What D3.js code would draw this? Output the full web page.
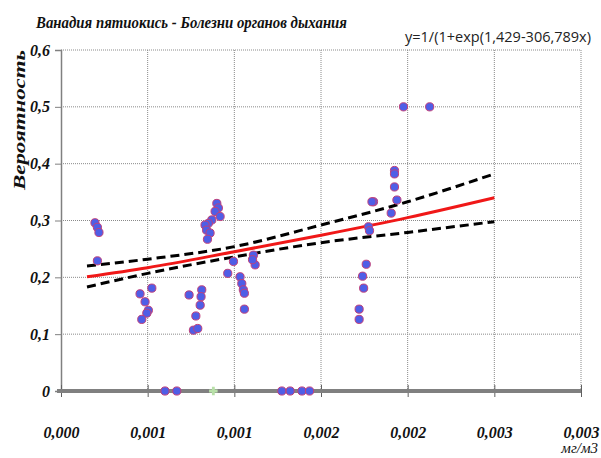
<!DOCTYPE html>
<html>
<head>
<meta charset="utf-8">
<script src="https://cdn.jsdelivr.net/npm/d3@7"></script>
<style>
  body { margin: 0; background: #fff; }
  svg { display: block; }
</style>
</head>
<body>
<div id="chart"></div>
<script>
// data
var chartTitle = "Ванадия пятиокись - Болезни органов дыхания";
var equation = "y=1/(1+exp(1,429-306,789x)";
var yTitle = "Вероятность";
var xUnit = "мг/м3";

var xTicks = [0, 0.0005, 0.001, 0.0015, 0.002, 0.0025, 0.003];
var xTickLabels = ["0,000", "0,001", "0,001", "0,002", "0,002", "0,003", "0,003"];
var yTicks = [0, 0.1, 0.2, 0.3, 0.4, 0.5, 0.6];
var yTickLabels = ["0", "0,1", "0,2", "0,3", "0,4", "0,5", "0,6"];

// observed points (concentration, probability)
var pointX = [
  0.000196, 0.00021, 0.000219, 0.00021,
  0.000456, 0.000524, 0.000485, 0.000504, 0.000495, 0.000466,
  0.000899, 0.000908, 0.000889, 0.000918, 0.00087, 0.00085, 0.000831, 0.00084, 0.00086, 0.000845,
  0.000739, 0.000812, 0.000808, 0.000803, 0.000778, 0.000764, 0.000789,
  0.000995, 0.000962, 0.001033, 0.001043, 0.001052, 0.001058, 0.001058, 0.00111, 0.00112, 0.001105,
  0.001976, 0.002127, 0.001924, 0.001924, 0.001924, 0.001938, 0.001803, 0.001794, 0.001905, 0.001774, 0.00178,
  0.001761, 0.00174, 0.001746, 0.00172, 0.00172,
  0.0006, 0.000668, 0.001274, 0.001322, 0.00139, 0.001434
];
var pointY = [
  0.296, 0.288, 0.279, 0.229,
  0.171, 0.181, 0.157, 0.142, 0.137, 0.126,
  0.330, 0.322, 0.316, 0.307, 0.301, 0.295, 0.292, 0.283, 0.278, 0.267,
  0.169, 0.178, 0.166, 0.151, 0.132, 0.107, 0.110,
  0.228, 0.207, 0.201, 0.189, 0.178, 0.172, 0.144, 0.239, 0.222, 0.231,
  0.50, 0.50, 0.388, 0.382, 0.359, 0.336, 0.333, 0.333, 0.313, 0.289, 0.282,
  0.223, 0.202, 0.181, 0.144, 0.126,
  0, 0, 0, 0, 0, 0
];
var plusX = [0.000879];
var plusY = [0];

// fitted curve and its confidence band
var fitX = [0.00015, 0.0005, 0.001, 0.0015, 0.002, 0.0025];
var fitY = [0.201, 0.217, 0.245, 0.274, 0.305, 0.340];
var upperY = [0.220, 0.232, 0.254, 0.292, 0.333, 0.382];
var lowerY = [0.183, 0.207, 0.236, 0.261, 0.279, 0.298];

var W = 601, H = 458;
var margin = {top: 50, right: 20, bottom: 67, left: 61},
    width = 581 - margin.left,
    height = H - margin.top - margin.bottom;

var svg = d3.select("#chart")
  .append("svg")
    .attr("width", W)
    .attr("height", H);

var g = svg.append("g")
    .attr("transform", "translate(" + margin.left + "," + margin.top + ")");

var x = d3.scaleLinear().domain([0, 0.003]).range([0, width]);
var y = d3.scaleLinear().domain([0, 0.6]).range([height, 0]);

var serif = "'Liberation Serif', 'Times New Roman', serif";

// grid
g.append("g")
  .selectAll("line")
  .data(yTicks.slice(1))
  .enter().append("line")
    .attr("x1", 0).attr("x2", width)
    .attr("y1", function(d) { return y(d); })
    .attr("y2", function(d) { return y(d); })
    .attr("stroke", "#8a8a8a")
    .attr("stroke-width", 1)
    .attr("stroke-dasharray", "1,1");

g.append("g")
  .selectAll("line")
  .data(xTicks.slice(1))
  .enter().append("line")
    .attr("x1", function(d) { return x(d); })
    .attr("x2", function(d) { return x(d); })
    .attr("y1", 0).attr("y2", height)
    .attr("stroke", "#8a8a8a")
    .attr("stroke-width", 1)
    .attr("stroke-dasharray", "1,1");

// y axis
var yAxis = g.append("g")
  .call(d3.axisLeft(y).tickValues(yTicks).tickSize(6)
    .tickFormat(function(d, i) { return yTickLabels[i]; }));
yAxis.select(".domain").attr("stroke", "#808080").attr("stroke-width", 1.5);
yAxis.selectAll(".tick line").attr("stroke", "#808080");
yAxis.selectAll(".tick text")
  .attr("x", -11)
  .style("font-family", serif)
  .style("font-size", "16px")
  .style("font-weight", "bold")
  .style("font-style", "italic")
  .attr("fill", "#111");

// x axis sits on y = 0
var xAxis = g.append("g")
  .attr("transform", "translate(0," + height + ")")
  .call(d3.axisBottom(x).tickValues(xTicks).tickSize(0)
    .tickFormat(function(d, i) { return xTickLabels[i]; }));
xAxis.select(".domain").remove();
xAxis.append("line")
  .attr("x1", -4).attr("x2", width)
  .attr("stroke", "#808080")
  .attr("stroke-width", 4);
xAxis.selectAll(".tick").append("line")
  .attr("y1", -6).attr("y2", 6)
  .attr("stroke", "#606060");
xAxis.selectAll(".tick text")
  .attr("y", 47)
  .attr("dy", 0)
  .style("font-family", serif)
  .style("font-size", "16px")
  .style("font-weight", "bold")
  .style("font-style", "italic")
  .attr("fill", "#111");

// confidence band
var line = d3.line()
  .x(function(d) { return x(d[0]); })
  .y(function(d) { return y(d[1]); })
  .curve(d3.curveMonotoneX);

[upperY, lowerY].forEach(function(band) {
  g.append("path")
    .datum(fitX.map(function(v, i) { return [v, band[i]]; }))
    .attr("fill", "none")
    .attr("stroke", "#000")
    .attr("stroke-width", 3)
    .attr("stroke-dasharray", "9,5")
    .attr("d", line);
});

g.append("path")
  .datum(fitX.map(function(v, i) { return [v, fitY[i]]; }))
  .attr("fill", "none")
  .attr("stroke", "#f01818")
  .attr("stroke-width", 3)
  .attr("d", line);

// points
g.append("g")
  .selectAll("circle")
  .data(pointX.map(function(v, i) { return [v, pointY[i]]; }))
  .enter().append("circle")
    .attr("cx", function(d) { return x(d[0]); })
    .attr("cy", function(d) { return y(d[1]); })
    .attr("r", 4.1)
    .attr("fill", "#4f5ee6")
    .attr("stroke", "#c2407a")
    .attr("stroke-width", 1);

g.append("g")
  .selectAll("path")
  .data(plusX.map(function(v, i) { return [v, plusY[i]]; }))
  .enter().append("path")
    .attr("transform", function(d) { return "translate(" + x(d[0]) + "," + y(d[1]) + ")"; })
    .attr("d", d3.symbol().type(d3.symbolCross).size(40))
    .attr("fill", "#b8e0a8");

// equation label with white box over the grid
var eq = svg.append("g").attr("transform", "translate(404,42)");
eq.append("rect")
  .attr("x", 0).attr("y", -16)
  .attr("width", 190).attr("height", 21)
  .attr("fill", "#fff");
eq.append("text")
  .attr("x", 1)
  .attr("textLength", 186)
  .attr("lengthAdjust", "spacingAndGlyphs")
  .style("font-family", "'Open Sans', sans-serif")
  .style("font-size", "14px")
  .attr("fill", "#222")
  .text(equation);

// title
svg.append("text")
  .attr("x", 36)
  .attr("y", 28)
  .attr("textLength", 311)
  .attr("lengthAdjust", "spacingAndGlyphs")
  .style("font-family", serif)
  .style("font-size", "16px")
  .style("font-weight", "bold")
  .style("font-style", "italic")
  .attr("fill", "#111")
  .text(chartTitle);

// y title
svg.append("text")
  .attr("transform", "translate(25,120) rotate(-90)")
  .attr("text-anchor", "middle")
  .attr("textLength", 140)
  .attr("lengthAdjust", "spacingAndGlyphs")
  .style("font-family", serif)
  .style("font-size", "17px")
  .style("font-weight", "bold")
  .style("font-style", "italic")
  .attr("fill", "#111")
  .text(yTitle);

// unit
svg.append("text")
  .attr("x", 598)
  .attr("y", 453)
  .attr("text-anchor", "end")
  .style("font-family", serif)
  .style("font-size", "15px")
  .style("font-style", "italic")
  .attr("fill", "#111")
  .text(xUnit);
</script>
</body>
</html>
